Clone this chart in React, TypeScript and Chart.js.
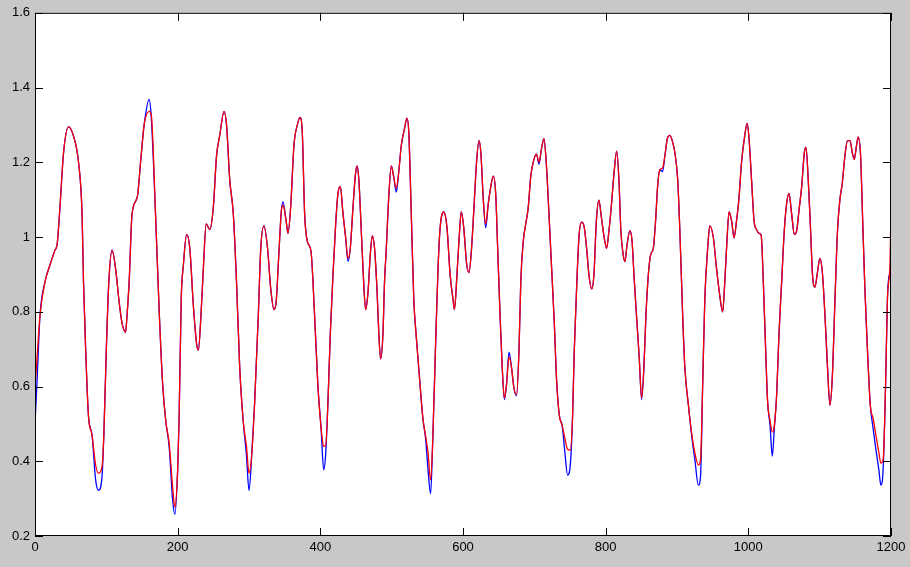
import React, { useEffect, useRef } from 'react';
import { Chart, registerables } from 'chart.js';

Chart.register(...registerables);

// sample positions (x) and the two series
const xs = [
  0, 3, 7, 14, 21, 28, 31, 35, 40, 47, 54, 61, 66, 68, 71, 75, 80, 85, 89, 94,
  96.5, 100, 103.5, 108, 113, 118, 122, 127, 129, 132, 136, 143.5, 148, 153, 160, 163, 169, 174, 179, 183.5,
  188, 193, 196, 200, 202, 205, 208, 212.6, 217, 222, 226.5, 229, 232.6, 236, 240, 245, 250, 254.5, 259, 265,
  268.5, 273, 278, 282.5, 287, 292, 296.5, 300, 303.5, 308, 313, 316.5, 321, 326, 330.5, 335, 338, 341.7, 345.4, 347.7,
  352, 354.7, 358.4, 363, 367.8, 371.5, 374.7, 378, 381.7, 387, 392, 396.5, 401, 404.7, 407.5, 410.7, 414, 417.7, 421.5, 424.7,
  428, 431.8, 435.5, 438.8, 442, 445.8, 449, 451.4, 454, 457.4, 460.7, 463.5, 466.8, 470, 472.8, 476, 479.4, 482, 484.5, 487.8,
  490, 492.5, 495.7, 499.5, 502.7, 506.5, 509.7, 513.5, 518, 521.4, 524, 527.5, 531, 534.5, 539, 543.8, 547.6, 551, 554.6, 557.8,
  561.6, 565, 568, 573, 577.5, 582, 586, 588, 591.5, 594.3, 597.6, 601, 605, 608.4, 612, 615.4, 619, 622.4, 625, 628.5,
  631.8, 635.5, 639, 642.5, 645.8, 648.6, 652, 655, 658, 661, 664.5, 668, 671.4, 675, 678.5, 681, 684.5, 688, 691.5, 695,
  699.5, 703, 706.5, 710, 713.5, 717, 720.5, 724, 728, 731, 735, 739, 743, 746.6, 750.4, 753.5, 756, 759.6, 762.8, 766.5,
  770, 773.3, 776.6, 780.4, 783.5, 787, 790.5, 794, 798, 801.3, 804.6, 807.4, 811.7, 815.4, 818.6, 821.3, 824.6, 827, 830, 834,
  837, 839.7, 843.3, 847, 850.4, 853.6, 856.4, 859.8, 863, 866.8, 870, 872.8, 876, 879.8, 883, 886.4, 890, 893.9, 897, 901,
  904, 908, 911, 916, 920.6, 925, 930, 933, 936, 939, 943, 946, 951, 955.4, 960, 964, 967, 970, 973, 976.5,
  980, 983.5, 986.7, 990.5, 995, 998.4, 1001, 1004.5, 1008, 1011.5, 1015, 1018, 1021, 1024.3, 1027, 1030.4, 1033.6, 1036.5, 1039.7, 1043,
  1046.7, 1050.4, 1053.7, 1057, 1060.7, 1064.5, 1067.8, 1071, 1074.8, 1078.5, 1080.8, 1084, 1087.3, 1090, 1093.4, 1097, 1100.4, 1103.7, 1107.5, 1111,
  1114.4, 1117.7, 1121.5, 1125, 1128.4, 1131.7, 1135.4, 1139, 1142.5, 1145.7, 1148.5, 1151.7, 1154, 1157.4, 1160, 1163.4, 1167, 1171, 1175, 1178.8,
  1183, 1185.8, 1189, 1192.4, 1195, 1198.6, 1200,
];

const blueVals = [
  0.5, 0.62, 0.79, 0.88, 0.925, 0.965, 0.98, 1.08, 1.225, 1.295, 1.27, 1.2, 1.06, 0.88, 0.7, 0.52, 0.47, 0.35, 0.322, 0.36,
  0.47, 0.7, 0.88, 0.965, 0.915, 0.825, 0.77, 0.745, 0.79, 0.88, 1.06, 1.108, 1.2, 1.3, 1.368, 1.32, 1.06, 0.806, 0.605, 0.505,
  0.44, 0.295, 0.258, 0.377, 0.514, 0.834, 0.925, 1.007, 0.97, 0.816, 0.715, 0.697, 0.788, 0.916, 1.035, 1.02, 1.08, 1.217, 1.272, 1.336,
  1.3, 1.153, 1.062, 0.88, 0.65, 0.505, 0.414, 0.322, 0.405, 0.56, 0.788, 0.97, 1.03, 0.97, 0.861, 0.806, 0.825, 0.95, 1.071, 1.094,
  1.044, 1.01, 1.08, 1.245, 1.3, 1.32, 1.28, 1.062, 0.989, 0.96, 0.788, 0.605, 0.49, 0.377, 0.42, 0.56, 0.742, 0.898, 1.035, 1.117,
  1.135, 1.062, 0.998, 0.935, 0.97, 1.08, 1.163, 1.19, 1.153, 1.017, 0.88, 0.806, 0.852, 0.952, 1.003, 0.97, 0.861, 0.742, 0.674, 0.742,
  0.88, 0.97, 1.1, 1.19, 1.163, 1.12, 1.17, 1.245, 1.29, 1.318, 1.28, 1.062, 0.834, 0.733, 0.624, 0.514, 0.46, 0.377, 0.313, 0.468,
  0.715, 0.916, 1.026, 1.067, 1.026, 0.898, 0.834, 0.806, 0.898, 0.989, 1.067, 1.026, 0.93, 0.905, 0.97, 1.08, 1.2, 1.258, 1.226, 1.099,
  1.025, 1.09, 1.135, 1.163, 1.117, 0.97, 0.788, 0.651, 0.565, 0.605, 0.692, 0.651, 0.596, 0.575, 0.697, 0.88, 0.989, 1.035, 1.08, 1.163,
  1.208, 1.222, 1.195, 1.236, 1.263, 1.19, 1.062, 0.925, 0.77, 0.624, 0.523, 0.496, 0.42, 0.363, 0.39, 0.514, 0.697, 0.88, 1.007, 1.04,
  1.026, 0.97, 0.898, 0.861, 0.898, 1.044, 1.099, 1.053, 0.998, 0.97, 1.017, 1.071, 1.17, 1.23, 1.153, 1.017, 0.952, 0.934, 0.98, 1.017,
  0.989, 0.898, 0.788, 0.679, 0.565, 0.651, 0.788, 0.898, 0.952, 0.97, 1.044, 1.135, 1.18, 1.175, 1.217, 1.263, 1.272, 1.254, 1.226, 1.153,
  1.017, 0.788, 0.651, 0.55, 0.468, 0.405, 0.336, 0.36, 0.605, 0.834, 0.97, 1.03, 0.998, 0.916, 0.843, 0.8, 0.88, 0.989, 1.067, 1.044,
  0.998, 1.044, 1.1, 1.2, 1.272, 1.304, 1.263, 1.153, 1.044, 1.02, 1.01, 1.005, 0.88, 0.697, 0.56, 0.496, 0.414, 0.49, 0.578, 0.742,
  0.88, 1.017, 1.09, 1.117, 1.062, 1.007, 1.017, 1.071, 1.135, 1.226, 1.24, 1.153, 1.017, 0.898, 0.866, 0.907, 0.943, 0.907, 0.788, 0.651,
  0.55, 0.624, 0.834, 1.017, 1.1, 1.144, 1.217, 1.258, 1.258, 1.226, 1.208, 1.245, 1.267, 1.217, 1.062, 0.861, 0.697, 0.55, 0.487, 0.432,
  0.377, 0.336, 0.38, 0.605, 0.834, 0.9, 0.88,
];

const redVals = [
  0.6, 0.68, 0.79, 0.88, 0.925, 0.965, 0.98, 1.08, 1.225, 1.295, 1.27, 1.2, 1.06, 0.88, 0.7, 0.52, 0.47, 0.39, 0.368, 0.386,
  0.47, 0.7, 0.88, 0.965, 0.915, 0.825, 0.77, 0.745, 0.79, 0.88, 1.06, 1.108, 1.2, 1.3, 1.336, 1.327, 1.06, 0.806, 0.605, 0.505,
  0.45, 0.33, 0.277, 0.377, 0.514, 0.834, 0.925, 1.007, 0.97, 0.816, 0.715, 0.697, 0.788, 0.916, 1.035, 1.02, 1.08, 1.217, 1.272, 1.336,
  1.3, 1.153, 1.062, 0.88, 0.65, 0.505, 0.44, 0.368, 0.41, 0.56, 0.788, 0.97, 1.03, 0.97, 0.861, 0.806, 0.825, 0.95, 1.071, 1.085,
  1.044, 1.01, 1.08, 1.245, 1.3, 1.32, 1.28, 1.062, 0.989, 0.96, 0.788, 0.605, 0.49, 0.441, 0.44, 0.56, 0.742, 0.898, 1.035, 1.117,
  1.135, 1.062, 0.998, 0.943, 0.97, 1.08, 1.163, 1.19, 1.153, 1.017, 0.88, 0.806, 0.852, 0.952, 1.003, 0.97, 0.861, 0.742, 0.674, 0.742,
  0.88, 0.97, 1.1, 1.19, 1.163, 1.13, 1.17, 1.245, 1.29, 1.318, 1.28, 1.062, 0.834, 0.733, 0.624, 0.514, 0.468, 0.423, 0.35, 0.468,
  0.715, 0.916, 1.026, 1.067, 1.026, 0.898, 0.834, 0.806, 0.898, 0.989, 1.067, 1.026, 0.93, 0.905, 0.97, 1.08, 1.2, 1.258, 1.226, 1.099,
  1.035, 1.09, 1.135, 1.163, 1.117, 0.97, 0.788, 0.651, 0.569, 0.605, 0.68, 0.651, 0.596, 0.578, 0.697, 0.88, 0.989, 1.035, 1.08, 1.163,
  1.208, 1.222, 1.2, 1.236, 1.263, 1.19, 1.062, 0.925, 0.77, 0.624, 0.523, 0.496, 0.46, 0.432, 0.43, 0.514, 0.697, 0.88, 1.007, 1.04,
  1.026, 0.97, 0.898, 0.861, 0.898, 1.044, 1.099, 1.053, 0.998, 0.97, 1.017, 1.071, 1.17, 1.23, 1.153, 1.017, 0.952, 0.934, 0.98, 1.017,
  0.989, 0.898, 0.788, 0.679, 0.569, 0.651, 0.788, 0.898, 0.952, 0.97, 1.044, 1.135, 1.18, 1.185, 1.217, 1.263, 1.272, 1.254, 1.226, 1.153,
  1.017, 0.788, 0.651, 0.55, 0.475, 0.423, 0.39, 0.405, 0.605, 0.834, 0.97, 1.03, 0.998, 0.916, 0.843, 0.8, 0.88, 0.989, 1.067, 1.044,
  0.998, 1.044, 1.1, 1.2, 1.272, 1.304, 1.263, 1.153, 1.044, 1.02, 1.01, 1.005, 0.88, 0.697, 0.56, 0.51, 0.478, 0.496, 0.578, 0.742,
  0.88, 1.017, 1.09, 1.117, 1.062, 1.007, 1.017, 1.071, 1.135, 1.226, 1.24, 1.153, 1.017, 0.898, 0.866, 0.907, 0.943, 0.907, 0.788, 0.651,
  0.55, 0.624, 0.834, 1.017, 1.1, 1.144, 1.217, 1.258, 1.258, 1.226, 1.208, 1.245, 1.267, 1.217, 1.062, 0.861, 0.697, 0.55, 0.514, 0.47,
  0.423, 0.395, 0.405, 0.605, 0.834, 0.93, 1.07,
];

const xTicks = [0, 200, 400, 600, 800, 1000, 1200];
const yTicks = [0.2, 0.4, 0.6, 0.8, 1.0, 1.2, 1.4, 1.6];

const FONT = { family: '"Liberation Sans", Arial, sans-serif', size: 13 };

export default function App() {
  const ref = useRef<HTMLCanvasElement>(null);

  useEffect(() => {
    document.body.style.margin = '0';
    const canvas = ref.current;
    if (!canvas) return;

    const framePlugin = {
      id: 'matlabFrame',
      beforeDraw(chart: any) {
        const { ctx, chartArea: a, width, height } = chart;
        ctx.save();
        ctx.fillStyle = '#c8c8c8';
        ctx.fillRect(0, 0, width, height);
        ctx.fillStyle = '#ffffff';
        ctx.fillRect(a.left, a.top, a.right - a.left, a.bottom - a.top);
        ctx.restore();
      },
      afterDraw(chart: any) {
        const { ctx, chartArea: a, scales } = chart;
        const tl = 8;
        ctx.save();
        ctx.strokeStyle = '#000000';
        ctx.lineWidth = 1;
        ctx.beginPath();
        for (const v of yTicks) {
          const y = Math.round(scales.y.getPixelForValue(v)) + 0.5;
          ctx.moveTo(a.left, y);
          ctx.lineTo(a.left + tl, y);
          ctx.moveTo(a.right, y);
          ctx.lineTo(a.right - tl, y);
        }
        for (const v of xTicks) {
          const x = Math.round(scales.x.getPixelForValue(v)) + 0.5;
          ctx.moveTo(x, a.bottom);
          ctx.lineTo(x, a.bottom - tl);
          ctx.moveTo(x, a.top);
          ctx.lineTo(x, a.top + tl);
        }
        ctx.stroke();
        ctx.strokeRect(a.left + 0.5, a.top + 0.5, a.right - a.left - 1, a.bottom - a.top - 1);
        ctx.restore();
      },
    };

    const chart = new Chart(canvas, {
      type: 'line',
      data: {
        datasets: [
          {
            label: 'red',
            data: xs.map((x, i) => ({ x, y: redVals[i] })),
            borderColor: '#ff0000',
            borderWidth: 1.3,
            pointRadius: 0,
            cubicInterpolationMode: 'monotone',
            fill: false,
            order: 1,
          },
          {
            label: 'blue',
            data: xs.map((x, i) => ({ x, y: blueVals[i] })),
            borderColor: '#0000ff',
            borderWidth: 1.3,
            pointRadius: 0,
            cubicInterpolationMode: 'monotone',
            fill: false,
            order: 2,
          },
        ],
      },
      options: {
        responsive: false,
        animation: false,
        devicePixelRatio: 1,
        layout: { padding: { top: 10, right: 19, left: 0, bottom: 0 } },
        plugins: { legend: { display: false }, tooltip: { enabled: false } },
        scales: {
          x: {
            type: 'linear',
            min: 0,
            max: 1200,
            afterFit: (s: any) => { s.height = 31; },
            afterBuildTicks: (s: any) => { s.ticks = xTicks.map((v) => ({ value: v })); },
            grid: { display: false, drawTicks: false },
            border: { display: false },
            ticks: {
              autoSkip: false,
              maxRotation: 0,
              padding: 4,
              color: '#000000',
              font: FONT,
              callback: (v: any) => String(v),
            },
          },
          y: {
            type: 'linear',
            min: 0.2,
            max: 1.6,
            afterFit: (s: any) => { s.width = 35; },
            afterBuildTicks: (s: any) => { s.ticks = yTicks.map((v) => ({ value: v })); },
            grid: { display: false, drawTicks: false },
            border: { display: false },
            ticks: {
              autoSkip: false,
              padding: 5,
              color: '#000000',
              font: FONT,
              callback: (v: any) => String(Math.round(Number(v) * 10) / 10),
            },
          },
        },
      },
      plugins: [framePlugin],
    } as any);

    return () => chart.destroy();
  }, []);

  return (
    <div style={{ width: 910, height: 567, position: 'absolute', left: 0, top: 0, background: '#c8c8c8' }}>
      <canvas ref={ref} width={910} height={567} style={{ display: 'block' }} />
    </div>
  );
}
